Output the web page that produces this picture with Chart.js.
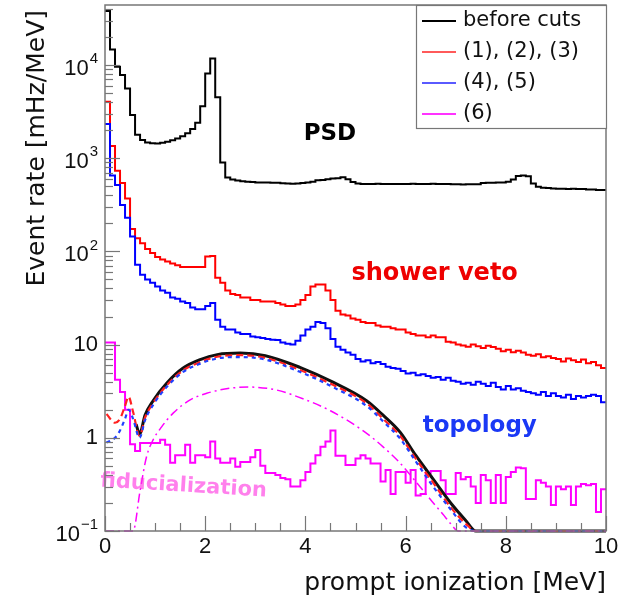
<!DOCTYPE html>
<html>
<head>
<meta charset="utf-8">
<script src="https://cdn.jsdelivr.net/npm/chart.js@4.4.1/dist/chart.umd.min.js"></script>
<style>
  html, body { margin: 0; padding: 0; background: #fff; }
  #wrap { width: 622px; height: 598px; position: relative; }
</style>
</head>
<body>
<div id="wrap"><canvas id="c"></canvas></div>
<script>
// axis ranges
const X_MIN = 0, X_MAX = 10;
const Y_MIN = 0.1, Y_MAX = 44000;
const BIN_WIDTH = 0.1; // MeV per histogram bin

const xTickLabels = [0, 2, 4, 6, 8, 10];
const yDecades = [-1, 0, 1, 2, 3, 4];

// histograms, 100 bins of 0.1 MeV (mHz/MeV)
const beforeCuts = [
  38000, 14700, 9600, 7800, 5600, 2900, 1780, 1570, 1470, 1450,
  1440, 1460, 1500, 1560, 1630, 1720, 1850, 2050, 2400, 3600,
  8100, 11700, 4500, 900, 620, 590, 575, 565, 560, 555,
  550, 550, 548, 545, 545, 538, 535, 533, 535, 540,
  548, 560, 580, 585, 595, 605, 610, 625, 595, 555,
  535, 530, 528, 530, 532, 528, 530, 527, 530, 528,
  530, 532, 528, 530, 530, 532, 528, 530, 527, 525,
  525, 523, 526, 524, 525, 540, 545, 545, 548, 550,
  560, 590, 645, 650, 640, 535, 495, 482, 478, 472,
  470, 470, 468, 470, 468, 466, 460, 460, 456, 455
];
const cuts123 = [
  4040, 1350, 735, 540, 370, 174, 138, 122, 106, 96,
  87, 82, 78, 74, 71, 68, 68, 68, 68, 68,
  88, 89, 52, 46, 38, 35, 34, 32, 32, 30,
  30, 29, 29, 29, 28, 27, 26, 26, 27, 30,
  34, 42, 44, 44, 38, 30, 23, 21, 20.5, 19,
  18.5, 17.5, 17, 17, 16, 15.5, 15.5, 15, 14.5, 14.5,
  13.5, 13, 12.5, 12.5, 12, 12.5, 12, 12, 10.7, 10.5,
  10, 9.8, 9.5, 10, 9.6, 9.2, 9.7, 9.4, 9, 8.5,
  8.8, 8.3, 8.6, 8.2, 7.8, 7.6, 7.9, 7.3, 7.5, 7.2,
  7.0, 6.6, 7.1, 6.8, 6.5, 6.9, 6.3, 6.5, 6.0, 5.6
];
const cuts45 = [
  2330, 650, 515, 315, 230, 144, 72, 56, 50, 46,
  42, 38, 36, 32, 31, 29, 28, 25, 24, 24,
  26, 28, 18.5, 15.5, 14.5, 14.5, 13.5, 13, 13, 12.2,
  12, 11.8, 11.5, 11.3, 11.2, 10.5, 10.2, 10.0, 11, 12.5,
  14.5, 15.5, 17.5, 17, 15, 11.5, 9.5, 8.8, 8.2, 7.8,
  7.0, 6.6, 6.8, 6.3, 6.5, 6.2, 5.8, 5.6, 5.5, 5.2,
  4.9, 5.0, 4.7, 4.8, 4.6, 4.4, 4.5, 4.2, 4.4, 4.1,
  4.0, 3.8, 3.9, 3.7, 4.0, 3.8, 3.6, 3.9, 3.5, 3.3,
  3.6, 3.3, 3.4, 3.2, 3.1, 3.0, 2.9, 3.1, 2.8, 3.0,
  2.8, 2.7, 2.9, 2.6, 2.8, 2.7, 2.8, 2.9, 2.8, 2.4
];
const cut6 = [
  10.5, 10.5, 4.2, 3.1, 2.0, 0.85, 0.72, 0.88, 0.88, 0.88,
  0.88, 0.95, 0.84, 0.54, 0.65, 0.65, 0.84, 0.54, 0.65, 0.65,
  0.62, 0.91, 0.6, 0.54, 0.54, 0.6, 0.49, 0.55, 0.55, 0.62,
  0.74, 0.5, 0.42, 0.42, 0.4, 0.37, 0.36, 0.3, 0.3, 0.35,
  0.43, 0.53, 0.65, 0.8, 0.91, 1.2, 0.64, 0.64, 0.51, 0.51,
  0.6, 0.65, 0.6, 0.53, 0.53, 0.34, 0.45, 0.25, 0.43, 0.43,
  0.33, 0.45, 0.24, 0.25, 0.42, 0.44, 0.44, 0.35, 0.25, 0.25,
  0.42, 0.36, 0.38, 0.3, 0.2, 0.4, 0.35, 0.2, 0.4, 0.2,
  0.38, 0.43, 0.48, 0.47, 0.22, 0.22, 0.35, 0.33, 0.3, 0.19,
  0.3, 0.28, 0.3, 0.19, 0.3, 0.32, 0.31, 0.32, 0.16, 0.28
];

// expected IBD spectra (smooth curves), read at these energies
const curveEnergy = [0.03, 0.2, 0.3, 0.4, 0.47, 0.56, 0.69, 0.8, 0.96, 1.24, 1.56, 1.9, 2.24, 2.7, 3.2, 3.89, 4.55, 5.22, 5.55, 5.89, 6.2, 6.55, 6.9, 7.2, 7.4, 7.6, 10];
const ibd123 = [1.8, 1.45, 1.6, 2.2, 2.75, 1.9, 1.05, 1.65, 2.35, 3.7, 5.3, 6.5, 7.4, 7.7, 7.2, 5.35, 3.7, 2.35, 1.6, 1.05, 0.6, 0.33, 0.18, 0.12, 0.09, 0.05, 0.05];
const ibd45 = [0.89, 1.0, 1.2, 1.6, 2.0, 1.6, 1.0, 1.55, 2.25, 3.55, 5.1, 6.25, 7.1, 7.35, 6.9, 5.1, 3.5, 2.2, 1.5, 0.98, 0.56, 0.3, 0.17, 0.11, 0.085, 0.05, 0.05];
// the "before cuts" curve is only visible from the low-energy dip upward
const beforeEnergy = [0.62, 0.69, 0.8, 0.96, 1.24, 1.56, 1.9, 2.24, 2.7, 3.2, 3.89, 4.55, 5.22, 5.55, 5.89, 6.2, 6.55, 6.9, 7.2, 7.4, 7.6, 10];
const ibdBefore = [1.4, 1.1, 1.75, 2.5, 3.9, 5.6, 6.9, 7.8, 8.1, 7.6, 5.7, 3.95, 2.5, 1.75, 1.15, 0.65, 0.36, 0.2, 0.13, 0.1, 0.05, 0.05];
const ibd6Energy = [0, 0.5, 0.56, 0.7, 0.83, 0.96, 1.13, 1.36, 1.7, 2.03, 2.49, 2.89, 3.43, 3.85, 4.5, 5.19, 5.55, 5.87, 6.2, 6.52, 6.75, 6.9, 7.05, 7.2, 10];
const ibd6 = [0.05, 0.05, 0.1, 0.27, 0.63, 0.95, 1.31, 1.84, 2.55, 3.0, 3.4, 3.5, 3.25, 2.75, 1.95, 1.15, 0.8, 0.55, 0.34, 0.21, 0.15, 0.12, 0.1, 0.05, 0.05];

const legendItems = [
  ["before cuts", "#000000"],
  ["(1), (2), (3)", "#ff5a5a"],
  ["(4), (5)", "#5a5aff"],
  ["(6)", "#ff33ff"],
];

const AXIS_COLOR = "#777";
const TEXT_FONT = "DejaVu Sans";
const NUM_FONT = "Liberation Sans";

function histPoints(vals) {
  const pts = vals.map((v, i) => ({ x: i * BIN_WIDTH, y: v }));
  pts.push({ x: vals.length * BIN_WIDTH, y: vals[vals.length - 1] });
  return pts;
}
// ROOT draws function values below the frame along the axis
function curvePoints(es, vs) {
  return es.map((e, i) => ({ x: e, y: Math.max(vs[i], Y_MIN) }));
}

const hist = (label, vals, color, order) => ({
  label, data: histPoints(vals), borderColor: color, borderWidth: 2,
  stepped: true, pointRadius: 0, fill: false, order,
});
const curve = (label, es, vs, color, width, dash, order) => ({
  label, data: curvePoints(es, vs), borderColor: color, borderWidth: width,
  borderDash: dash, cubicInterpolationMode: "monotone", pointRadius: 0, fill: false, order,
  clip: 3,
});

const rootStyle = {
  id: "rootStyle",
  afterDatasetsDraw(chart) {
    const { ctx, chartArea: a, scales: { x, y } } = chart;
    ctx.save();

    // annotations
    const note = (text, xv, yv, font, color, align, rot) => {
      ctx.save();
      ctx.translate(x.getPixelForValue(xv), y.getPixelForValue(yv));
      if (rot) ctx.rotate(rot);
      ctx.font = font; ctx.fillStyle = color;
      ctx.textAlign = align; ctx.textBaseline = "alphabetic";
      ctx.fillText(text, 0, 0);
      ctx.restore();
    };
    note("PSD", 4.49, 1570, `bold 23px "${TEXT_FONT}"`, "#000", "center");
    note("shower veto", 6.58, 49, `bold 24px "${TEXT_FONT}"`, "#ee0000", "center");
    note("topology", 7.48, 1.16, `bold 23px "${TEXT_FONT}"`, "#1a38f5", "center");
    note("fiducialization", -0.1, 0.3, `bold 21px "${TEXT_FONT}"`, "rgba(255,50,225,0.62)", "left", 3.5 * Math.PI / 180);

    // frame
    ctx.strokeStyle = AXIS_COLOR; ctx.lineWidth = 1.5;
    ctx.strokeRect(a.left, a.top, a.right - a.left, a.bottom - a.top);

    // x ticks (inside), every 0.5 MeV, long at labelled values
    ctx.lineWidth = 1.2;
    for (let i = 0; i <= 20; i++) {
      const v = i * 0.5;
      const px = Math.round(x.getPixelForValue(v)) + 0.5;
      const len = xTickLabels.includes(v) ? 15 : 8;
      ctx.beginPath(); ctx.moveTo(px, a.bottom); ctx.lineTo(px, a.bottom - len); ctx.stroke();
    }
    // y ticks (inside), log
    for (const n of yDecades) {
      for (let m = 1; m <= 9; m++) {
        const v = m * Math.pow(10, n);
        if (v > Y_MAX) break;
        const py = Math.round(y.getPixelForValue(v)) + 0.5;
        const len = m === 1 ? 15 : 8;
        ctx.beginPath(); ctx.moveTo(a.left, py); ctx.lineTo(a.left + len, py); ctx.stroke();
      }
    }

    // x tick labels
    ctx.fillStyle = "#111";
    ctx.font = `22px "${NUM_FONT}"`;
    ctx.textAlign = "center"; ctx.textBaseline = "middle";
    for (const v of xTickLabels) ctx.fillText(String(v), x.getPixelForValue(v), a.bottom + 16);

    // y tick labels, 10^n with raised exponent
    const right = a.left - 7;
    for (const n of yDecades) {
      const py = y.getPixelForValue(Math.pow(10, n));
      ctx.textAlign = "right"; ctx.textBaseline = "middle";
      if (n === 0 || n === 1) {
        ctx.font = `22px "${NUM_FONT}"`;
        ctx.fillText(n === 0 ? "1" : "10", right, py);
      } else {
        const sup = n < 0 ? "\u2212" + Math.abs(n) : String(n);
        ctx.font = `15px "${NUM_FONT}"`;
        const sw = ctx.measureText(sup).width;
        ctx.fillText(sup, right, py - 6);
        ctx.font = `22px "${NUM_FONT}"`;
        ctx.fillText("10", right - sw - 1, py + 4);
      }
    }

    // axis titles
    ctx.font = `25px "${TEXT_FONT}"`;
    ctx.textAlign = "right"; ctx.textBaseline = "alphabetic";
    ctx.fillText("prompt ionization [MeV]", a.right, 590);
    ctx.save();
    ctx.translate(37, a.top + 5);
    ctx.rotate(-Math.PI / 2);
    ctx.textAlign = "right"; ctx.textBaseline = "middle";
    ctx.fillText("Event rate [mHz/MeV]", 0, 0);
    ctx.restore();

    // legend box
    const lx = a.right - 190, ly = a.top, lw = 190, lh = 123;
    ctx.fillStyle = "#fff"; ctx.fillRect(lx, ly, lw, lh);
    ctx.strokeStyle = AXIS_COLOR; ctx.lineWidth = 1.2;
    ctx.strokeRect(lx + 0.5, ly + 0.5, lw, lh);
    ctx.font = `21px "${TEXT_FONT}"`;
    ctx.textAlign = "left"; ctx.textBaseline = "middle";
    legendItems.forEach(([text, color], i) => {
      const ry = ly + 16 + i * 31;
      ctx.strokeStyle = color; ctx.lineWidth = 2;
      ctx.beginPath(); ctx.moveTo(lx + 6, ry); ctx.lineTo(lx + 40, ry); ctx.stroke();
      ctx.fillStyle = "#111";
      ctx.fillText(text, lx + 47, ry);
    });

    ctx.restore();
  },
};

new Chart(document.getElementById("c"), {
  type: "line",
  data: {
    datasets: [
      curve("before cuts fit", beforeEnergy, ibdBefore, "#111111", 3, [], 4),
      curve("(1),(2),(3) fit", curveEnergy, ibd123, "#ff2020", 2.2, [7, 4], 3),
      curve("(4),(5) fit", curveEnergy, ibd45, "#2040ff", 2.2, [4, 4], 2),
      curve("(6) fit", ibd6Energy, ibd6, "#ff00ff", 1.5, [9, 4, 2, 4], 1),
      hist("before cuts", beforeCuts, "#000000", 13),
      hist("(1), (2), (3)", cuts123, "#ff0000", 12),
      hist("(4), (5)", cuts45, "#0000ff", 11),
      hist("(6)", cut6, "#ff00ff", 10),
    ],
  },
  options: {
    responsive: true,
    maintainAspectRatio: false,
    animation: false,
    layout: { padding: { top: 5, right: 16, left: 0, bottom: 0 } },
    plugins: { legend: { display: false }, tooltip: { enabled: false } },
    scales: {
      x: {
        type: "linear", min: X_MIN, max: X_MAX,
        ticks: { display: false }, grid: { display: false, drawTicks: false }, border: { display: false },
        afterFit(s) { s.height = 67; },
      },
      y: {
        type: "logarithmic", min: Y_MIN, max: Y_MAX,
        ticks: { display: false }, grid: { display: false, drawTicks: false }, border: { display: false },
        afterFit(s) { s.width = 105; },
      },
    },
  },
  plugins: [rootStyle],
});
</script>
</body>
</html>
